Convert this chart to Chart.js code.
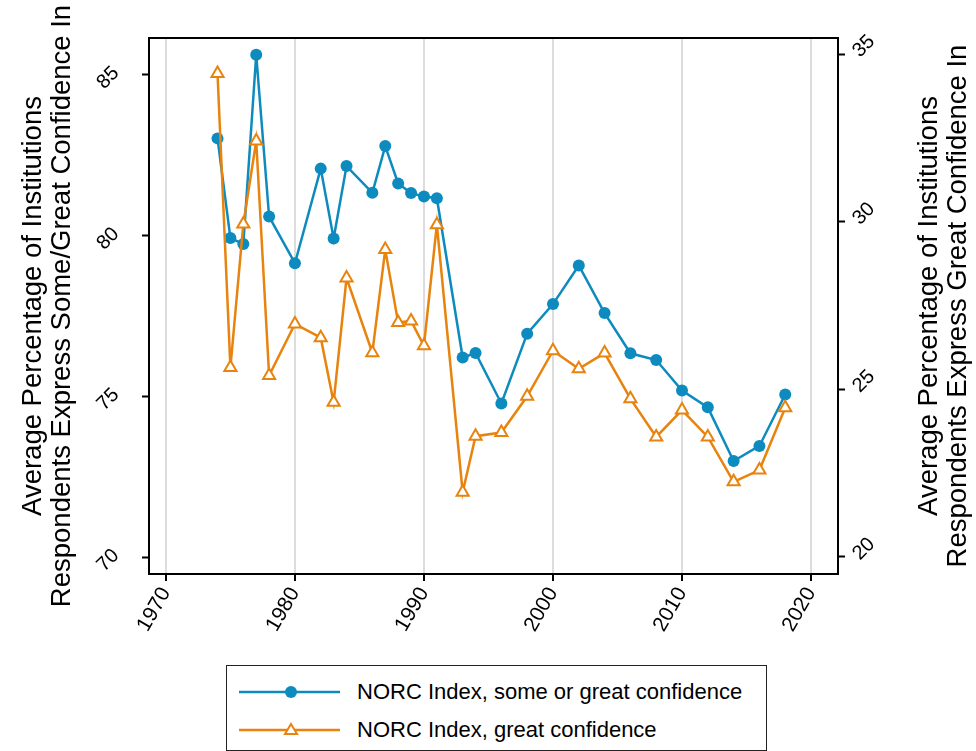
<!DOCTYPE html>
<html>
<head>
<meta charset="utf-8">
<title>NORC Confidence Index</title>
<script src="https://cdn.jsdelivr.net/npm/chart.js@4.4.1/dist/chart.umd.min.js"></script>
<style>
  html, body { margin: 0; padding: 0; background: #fff; }
  #wrap { position: relative; width: 976px; height: 751px; overflow: hidden; }
  #legend {
    position: absolute; left: 226px; top: 665px; width: 541px; height: 86px;
    border: 1px solid #222; box-sizing: border-box; background: #fff;
    font-family: "Liberation Sans", Arial, sans-serif; font-size: 22px; color: #000;
  }
  .row { position: absolute; left: 0; height: 26px; width: 100%; }
  .row svg { position: absolute; left: 12px; top: 3px; }
  .row span { position: absolute; left: 130px; top: 0; line-height: 26px; white-space: nowrap; }
</style>
</head>
<body>
<div id="wrap">
  <canvas id="chart" width="976" height="751"></canvas>
  <div id="legend"></div>
</div>
<script>
// Survey years
const years = [1974, 1975, 1976, 1977, 1978, 1980, 1982, 1983, 1984, 1986, 1987, 1988, 1989, 1990, 1991,
               1993, 1994, 1996, 1998, 2000, 2002, 2004, 2006, 2008, 2010, 2012, 2014, 2016, 2018];

// Average % expressing some or great confidence (left axis)
const someOrGreat = [83.03, 79.93, 79.75, 85.63, 80.60, 79.15, 82.09, 79.92, 82.17, 81.34, 82.79, 81.63, 81.33, 81.22, 81.17,
                     76.22, 76.36, 74.79, 76.96, 77.88, 79.08, 77.60, 76.35, 76.14, 75.19, 74.67, 73.00, 73.47, 75.07];

// Average % expressing great confidence (right axis)
const greatOnly = [34.42, 25.65, 29.93, 32.41, 25.41, 26.95, 26.54, 24.61, 28.32, 26.09, 29.17, 26.99, 27.04, 26.30, 29.91,
                   21.93, 23.60, 23.71, 24.79, 26.15, 25.61, 26.08, 24.72, 23.58, 24.38, 23.58, 22.24, 22.59, 24.45];

// Tick labels
const xTicks = [1970, 1980, 1990, 2000, 2010, 2020];
const leftTicks = [70, 75, 80, 85];
const rightTicks = [20, 25, 30, 35];

const seriesNames = ['NORC Index, some or great confidence', 'NORC Index, great confidence'];
const leftTitle = ['Average Percentage of Institutions', 'Respondents Express Some/Great Confidence In'];
const rightTitle = ['Average Percentage of Institutions', 'Respondents Express Great Confidence In'];

const BLUE = '#0e8bbe';
const ORANGE = '#e8830e';
const FONT = '"Liberation Sans", Arial, sans-serif';

function fixedTicks(list) {
  return scale => { scale.ticks = list.map(v => ({ value: v })); };
}

// Plot frame and the two axis titles (both read bottom-to-top)
const frameAndTitles = {
  id: 'frameAndTitles',
  afterDraw(chart) {
    const { ctx, chartArea: a } = chart;
    ctx.save();
    ctx.strokeStyle = '#000';
    ctx.lineWidth = 2;
    ctx.strokeRect(a.left, a.top, a.right - a.left, a.bottom - a.top);

    ctx.fillStyle = '#000';
    ctx.font = '27.5px ' + FONT;
    ctx.textAlign = 'center';
    ctx.textBaseline = 'middle';
    const cy = (a.top + a.bottom) / 2;
    const lineGap = 29;
    const drawTitle = (lines, cx) => {
      ctx.save();
      ctx.translate(cx, cy);
      ctx.rotate(-Math.PI / 2);
      lines.forEach((t, i) => {
        ctx.fillText(t, 0, (i - (lines.length - 1) / 2) * lineGap);
      });
      ctx.restore();
    };
    drawTitle(leftTitle, 47.5);
    drawTitle(rightTitle, 944);
    ctx.restore();
  }
};

const toPoints = vals => years.map((y, i) => ({ x: y, y: vals[i] }));

new Chart(document.getElementById('chart'), {
  type: 'line',
  data: {
    datasets: [
      {
        label: seriesNames[0],
        data: toPoints(someOrGreat),
        yAxisID: 'y',
        borderColor: BLUE,
        backgroundColor: BLUE,
        borderWidth: 2.5,
        pointStyle: 'circle',
        pointRadius: 6,
        pointBackgroundColor: BLUE,
        pointBorderColor: BLUE,
        pointBorderWidth: 0,
        tension: 0,
        order: 2
      },
      {
        label: seriesNames[1],
        data: toPoints(greatOnly),
        yAxisID: 'y2',
        borderColor: ORANGE,
        backgroundColor: ORANGE,
        borderWidth: 2.5,
        pointStyle: 'triangle',
        pointRadius: 7,
        pointBackgroundColor: '#fff',
        pointBorderColor: ORANGE,
        pointBorderWidth: 2,
        tension: 0,
        order: 1
      }
    ]
  },
  options: {
    responsive: false,
    devicePixelRatio: 1,
    animation: false,
    layout: { padding: { top: 36, left: 0, right: 0, bottom: 0 } },
    plugins: { legend: { display: false }, tooltip: { enabled: false } },
    scales: {
      x: {
        type: 'linear',
        position: 'bottom',
        min: 1968.69,
        max: 2022.09,
        afterBuildTicks: fixedTicks(xTicks),
        afterFit: s => { s.height = 177; },
        border: { display: false },
        grid: { color: '#dcdcdc', lineWidth: 2, tickColor: '#000', tickWidth: 2, tickLength: 7 },
        ticks: {
          font: { family: FONT, size: 21 }, color: '#000', padding: 2,
          minRotation: 60, maxRotation: 60,
          callback: v => String(v)
        }
      },
      y: {
        type: 'linear',
        position: 'left',
        min: 69.49,
        max: 86.15,
        afterBuildTicks: fixedTicks(leftTicks),
        afterFit: s => { s.width = 149; },
        border: { display: false },
        grid: { drawOnChartArea: false, tickColor: '#000', tickWidth: 2, tickLength: 7 },
        ticks: {
          font: { family: FONT, size: 20 }, color: '#000', padding: 26, labelOffset: -5,
          minRotation: 45, maxRotation: 45, callback: v => String(v)
        }
      },
      y2: {
        type: 'linear',
        position: 'right',
        min: 19.49,
        max: 35.48,
        afterBuildTicks: fixedTicks(rightTicks),
        afterFit: s => { s.width = 138; },
        border: { display: false },
        grid: { drawOnChartArea: false, tickColor: '#000', tickWidth: 2, tickLength: 7 },
        ticks: {
          font: { family: FONT, size: 20 }, color: '#000', padding: 11,
          minRotation: 45, maxRotation: 45, callback: v => String(v)
        }
      }
    }
  },
  plugins: [frameAndTitles]
});

// Legend: line-and-marker samples with series names
(function buildLegend() {
  const box = document.getElementById('legend');
  const rows = [
    { top: 13, color: BLUE, marker: '<circle cx="52" cy="10" r="6" fill="' + BLUE + '"/>' },
    { top: 51, color: ORANGE, marker: '<polygon points="52,4 58,14 46,14" fill="#fff" stroke="' + ORANGE + '" stroke-width="2"/>' }
  ];
  rows.forEach((r, i) => {
    const row = document.createElement('div');
    row.className = 'row';
    row.style.top = r.top + 'px';
    row.innerHTML =
      '<svg width="102" height="20" viewBox="0 0 102 20">' +
      '<line x1="0" y1="10" x2="101" y2="10" stroke="' + r.color + '" stroke-width="2.5"/>' +
      r.marker + '</svg><span>' + seriesNames[i] + '</span>';
    box.appendChild(row);
  });
})();
</script>
</body>
</html>
